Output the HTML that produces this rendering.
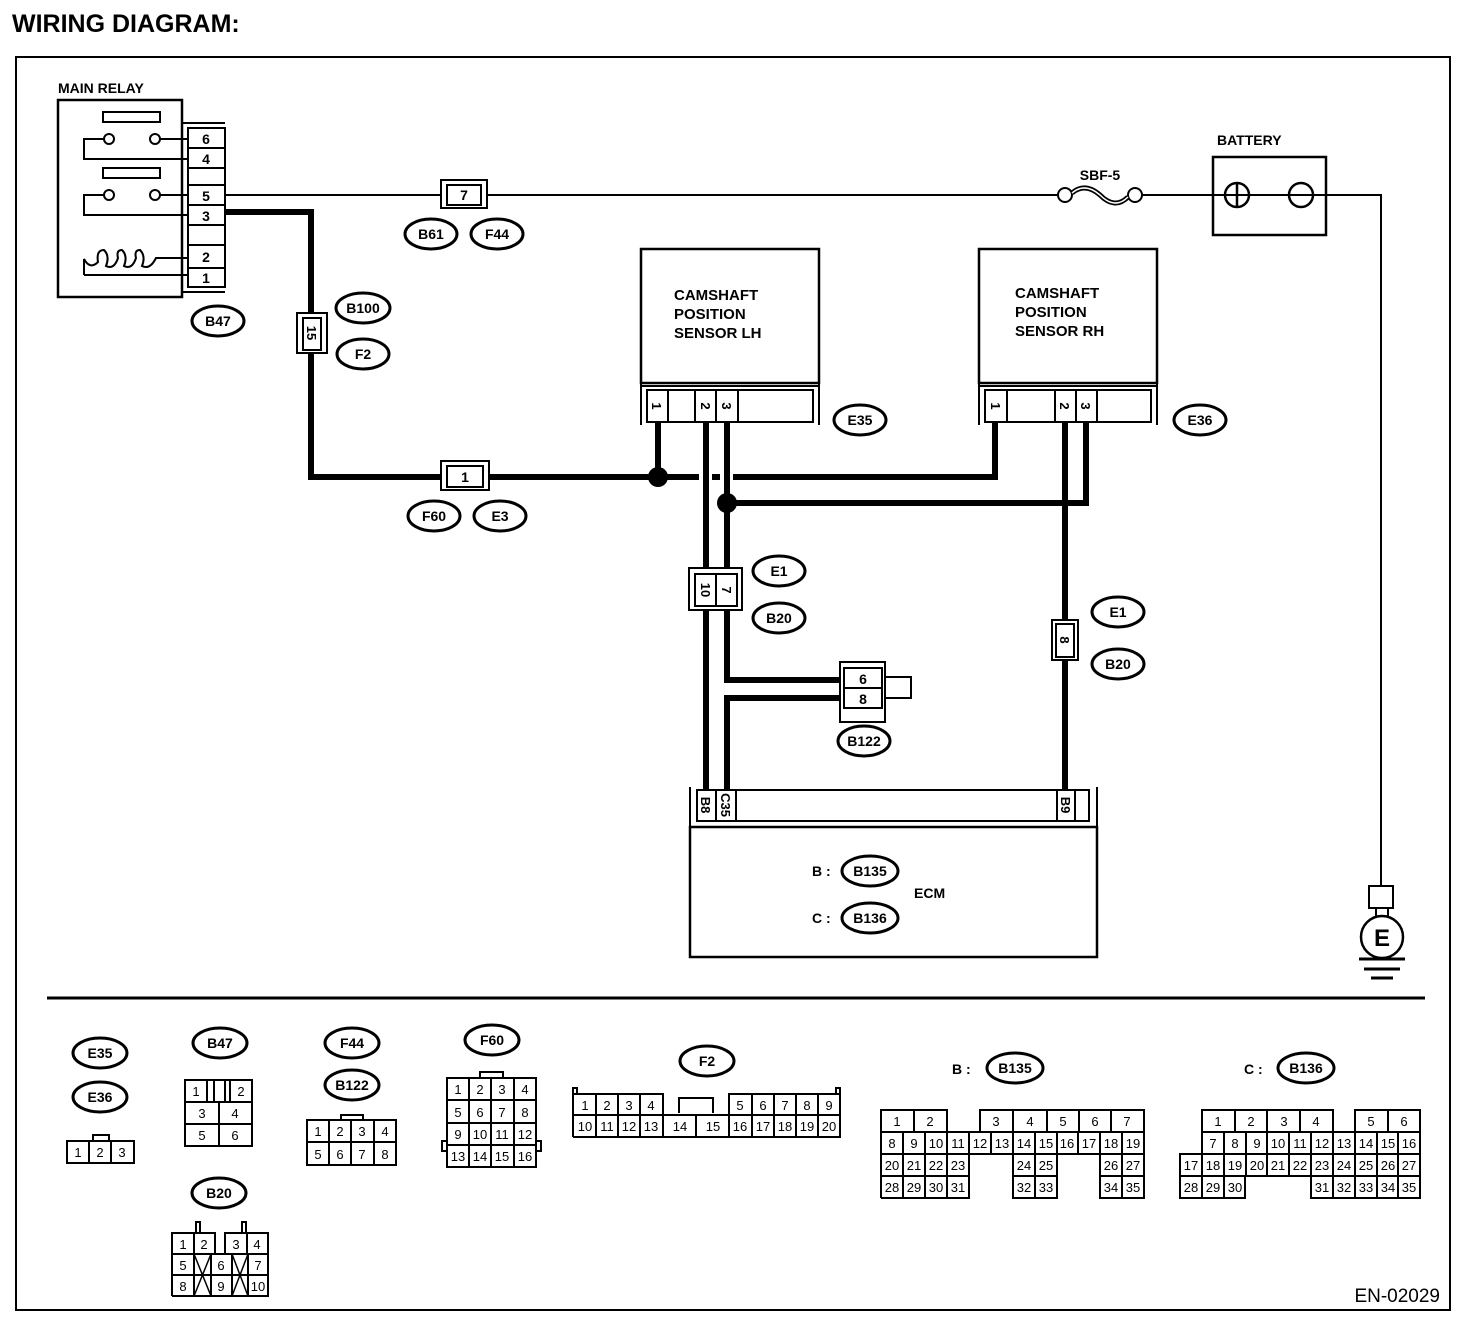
<!DOCTYPE html>
<html><head><meta charset="utf-8"><style>
html,body{margin:0;padding:0;background:#fff}
svg{display:block}
text{font-family:"Liberation Sans",sans-serif;fill:#000}
.b{font-weight:bold}
.c{font-size:13px;text-anchor:middle}
.o{font-size:14px;font-weight:bold;text-anchor:middle}
.l{font-size:14px;font-weight:bold}
</style></head><body>
<svg width="1472" height="1326" viewBox="0 0 1472 1326" xmlns="http://www.w3.org/2000/svg">
<text x="12" y="32" style="font-size:25px;font-weight:bold">WIRING DIAGRAM:</text>
<rect x="16" y="57" width="1434" height="1253" fill="none" stroke="#000" stroke-width="2"/>

<g fill="none" stroke="#000">
<rect x="58" y="100" width="124" height="197" stroke-width="2.5"/>
<line x1="182" y1="123" x2="225" y2="123" stroke-width="2"/>
<line x1="182" y1="292" x2="225" y2="292" stroke-width="2"/>
<line x1="182" y1="123" x2="182" y2="292" stroke-width="2"/>
<rect x="188" y="128" width="37" height="159" stroke-width="2"/>
<path d="M188 148H225M188 168H225M188 185H225M188 205H225M188 225H225M188 245H225M188 268H225" stroke-width="2"/>
<rect x="103" y="112" width="57" height="10" stroke-width="2"/>
<rect x="103" y="168" width="57" height="10" stroke-width="2"/>
<circle cx="109" cy="139" r="5" stroke-width="2"/><circle cx="155" cy="139" r="5" stroke-width="2"/>
<circle cx="109" cy="195" r="5" stroke-width="2"/><circle cx="155" cy="195" r="5" stroke-width="2"/>
<path d="M160 139H188M104 139H84V159H188M160 195H188M104 195H84V215H188" stroke-width="2"/>
<path d="M84 275V259Q90 270 98 262Q96 250 104 250Q110 256 106 266Q114 270 118 258Q116 250 122 250Q128 256 124 266Q132 270 136 258Q134 250 140 250Q146 256 142 266Q150 270 156 258H188M84 275H188" stroke-width="2"/>

<path d="M225 195H1058M1142 195H1381V886" stroke-width="2"/>
<rect x="441" y="180" width="46" height="28" stroke-width="2" fill="#fff"/>
<rect x="447" y="185" width="34" height="20" stroke-width="2" fill="#fff"/>
<circle cx="1065" cy="195" r="7" stroke-width="2" fill="#fff"/><circle cx="1135" cy="195" r="7" stroke-width="2" fill="#fff"/>
<path d="M1072 193Q1085 182 1100 195Q1115 210 1128 197" stroke-width="5"/>
<path d="M1072 193Q1085 182 1100 195Q1115 210 1128 197" stroke="#fff" stroke-width="1.5"/>
<rect x="1213" y="157" width="113" height="78" stroke-width="2.5"/>
<circle cx="1237" cy="195" r="12" stroke-width="2.5"/><line x1="1237" y1="183" x2="1237" y2="207" stroke-width="2.5"/>
<circle cx="1301" cy="195" r="12" stroke-width="2.5"/>
<rect x="1369" y="886" width="24" height="22" stroke-width="2"/>
<path d="M1376 908V918M1388 908V918" stroke-width="2"/>
<circle cx="1382" cy="937" r="21" stroke-width="2.5"/>
<path d="M1359 959H1405M1364 969H1400M1371 978H1393" stroke-width="3"/>

<path d="M225 212H311V477H699M712 477H720M733 477H995V420" stroke-width="6"/>
<path d="M658 477V420M706 420V792M727 420V680H843M843 698H727V792M727 503H1086V420M1065 420V792" stroke-width="6"/>
<rect x="297" y="313" width="30" height="40" stroke-width="2" fill="#fff"/>
<rect x="303" y="318" width="18" height="32" stroke-width="2" fill="#fff"/>
<rect x="441" y="461" width="48" height="29" stroke-width="2" fill="#fff"/>
<rect x="447" y="466" width="36" height="21" stroke-width="2" fill="#fff"/>
<rect x="689" y="568" width="53" height="42" stroke-width="2" fill="#fff"/>
<rect x="695" y="574" width="42" height="32" stroke-width="2" fill="#fff"/>
<line x1="716" y1="574" x2="716" y2="606" stroke-width="2"/>
<rect x="1052" y="620" width="26" height="40" stroke-width="2" fill="#fff"/>
<rect x="1056" y="624" width="18" height="33" stroke-width="2" fill="#fff"/>
<rect x="840" y="662" width="45" height="60" stroke-width="2" fill="#fff"/>
<rect x="844" y="668" width="38" height="40" stroke-width="2" fill="#fff"/>
<line x1="844" y1="688" x2="882" y2="688" stroke-width="2"/>
<rect x="885" y="677" width="26" height="21" stroke-width="2" fill="#fff"/>

<rect x="641" y="249" width="178" height="134" stroke-width="2.5"/>
<path d="M641 383V425M819 383V425M641 386H819" stroke-width="2"/>
<rect x="647" y="390" width="166" height="32" stroke-width="2" fill="#fff"/>
<path d="M668 390V422M695 390V422M716 390V422M738 390V422" stroke-width="2"/>
<rect x="979" y="249" width="178" height="134" stroke-width="2.5"/>
<path d="M979 383V425M1157 383V425M979 386H1157" stroke-width="2"/>
<rect x="985" y="390" width="166" height="32" stroke-width="2" fill="#fff"/>
<path d="M1007 390V422M1055 390V422M1076 390V422M1097 390V422" stroke-width="2"/>

<rect x="690" y="827" width="407" height="130" stroke-width="2.5"/>
<path d="M690 787V827M1097 787V827" stroke-width="2"/>
<rect x="697" y="790" width="392" height="31" stroke-width="2" fill="#fff"/>
<path d="M716 790V821M736 790V821M1057 790V821M1075 790V821" stroke-width="2"/>

<line x1="47" y1="998" x2="1425" y2="998" stroke-width="3"/>

<g stroke-width="3">
<ellipse cx="431" cy="234" rx="26" ry="15"/><ellipse cx="497" cy="234" rx="26" ry="15"/>
<ellipse cx="218" cy="321" rx="26" ry="15"/><ellipse cx="363" cy="308" rx="27" ry="15"/><ellipse cx="363" cy="354" rx="26" ry="15"/>
<ellipse cx="860" cy="420" rx="26" ry="15"/><ellipse cx="1200" cy="420" rx="26" ry="15"/>
<ellipse cx="434" cy="516" rx="26" ry="15"/><ellipse cx="500" cy="516" rx="26" ry="15"/>
<ellipse cx="779" cy="571" rx="26" ry="15"/><ellipse cx="779" cy="618" rx="26" ry="15"/>
<ellipse cx="1118" cy="612" rx="26" ry="15"/><ellipse cx="1118" cy="664" rx="26" ry="15"/>
<ellipse cx="864" cy="741" rx="26" ry="15"/>
<ellipse cx="870" cy="871" rx="28" ry="15"/><ellipse cx="870" cy="918" rx="28" ry="15"/>
<ellipse cx="100" cy="1053" rx="27" ry="15"/><ellipse cx="100" cy="1097" rx="27" ry="15"/>
<ellipse cx="220" cy="1043" rx="27" ry="15"/><ellipse cx="352" cy="1043" rx="27" ry="15"/><ellipse cx="352" cy="1085" rx="27" ry="15"/>
<ellipse cx="492" cy="1040" rx="27" ry="15"/><ellipse cx="219" cy="1193" rx="27" ry="15"/><ellipse cx="707" cy="1061" rx="27" ry="15"/>
<ellipse cx="1015" cy="1068" rx="28" ry="15"/><ellipse cx="1306" cy="1068" rx="28" ry="15"/>
</g>
</g>
<circle cx="658" cy="477" r="10"/><circle cx="727" cy="503" r="10"/>

<text x="58" y="93" class="l">MAIN RELAY</text>
<text x="1217" y="145" class="l">BATTERY</text>
<text x="1100" y="180" class="o">SBF-5</text>
<g class="c b" style="font-size:14px">
<text x="206" y="144" text-anchor="middle">6</text><text x="206" y="164" text-anchor="middle">4</text>
<text x="206" y="201" text-anchor="middle">5</text><text x="206" y="221" text-anchor="middle">3</text>
<text x="206" y="262" text-anchor="middle">2</text><text x="206" y="283" text-anchor="middle">1</text>
<text x="464" y="200" text-anchor="middle">7</text><text x="465" y="482" text-anchor="middle">1</text>
<text x="863" y="684" text-anchor="middle">6</text><text x="863" y="704" text-anchor="middle">8</text>
</g>
<g class="l" style="font-size:15px">
<text x="674" y="300">CAMSHAFT</text><text x="674" y="319">POSITION</text><text x="674" y="338">SENSOR LH</text>
<text x="1015" y="298">CAMSHAFT</text><text x="1015" y="317">POSITION</text><text x="1015" y="336">SENSOR RH</text>
</g>
<g class="l">
<text x="812" y="876">B :</text><text x="812" y="923">C :</text><text x="914" y="898">ECM</text>
<text x="952" y="1074">B :</text><text x="1244" y="1074">C :</text>
</g>
<g class="b" style="font-size:13px" text-anchor="middle">
<text transform="translate(312,333) rotate(90)" x="0" y="5">15</text>
<text transform="translate(657,406) rotate(90)" x="0" y="5">1</text>
<text transform="translate(706,406) rotate(90)" x="0" y="5">2</text>
<text transform="translate(727,406) rotate(90)" x="0" y="5">3</text>
<text transform="translate(996,406) rotate(90)" x="0" y="5">1</text>
<text transform="translate(1065,406) rotate(90)" x="0" y="5">2</text>
<text transform="translate(1086,406) rotate(90)" x="0" y="5">3</text>
<text transform="translate(706,590) rotate(90)" x="0" y="5">10</text>
<text transform="translate(727,590) rotate(90)" x="0" y="5">7</text>
<text transform="translate(1065,640) rotate(90)" x="0" y="5">8</text>
<text transform="translate(706,805) rotate(90)" x="0" y="5">B8</text>
<text transform="translate(726,805) rotate(90)" x="0" y="5">C35</text>
<text transform="translate(1066,805) rotate(90)" x="0" y="5">B9</text>
</g>
<text x="1382" y="946" class="b" style="font-size:24px" text-anchor="middle">E</text>
<g class="o">
<text x="431" y="239">B61</text><text x="497" y="239">F44</text><text x="218" y="326">B47</text>
<text x="363" y="313">B100</text><text x="363" y="359">F2</text><text x="860" y="425">E35</text><text x="1200" y="425">E36</text>
<text x="434" y="521">F60</text><text x="500" y="521">E3</text><text x="779" y="576">E1</text><text x="779" y="623">B20</text>
<text x="1118" y="617">E1</text><text x="1118" y="669">B20</text><text x="864" y="746">B122</text>
<text x="870" y="876">B135</text><text x="870" y="923">B136</text>
<text x="100" y="1058">E35</text><text x="100" y="1102">E36</text><text x="220" y="1048">B47</text>
<text x="352" y="1048">F44</text><text x="352" y="1090">B122</text><text x="492" y="1045">F60</text>
<text x="219" y="1198">B20</text><text x="707" y="1066">F2</text>
<text x="1015" y="1073">B135</text><text x="1306" y="1073">B136</text>
</g>
<text x="1440" y="1302" style="font-size:19px" text-anchor="end">EN-02029</text>

<g fill="none" stroke="#000" stroke-width="2">
<rect x="67" y="1141" width="67" height="22"/><path d="M89 1141V1163M111 1141V1163"/><rect x="93" y="1135" width="16" height="6"/>
<rect x="185" y="1080" width="67" height="66"/><path d="M185 1102H252M185 1124H252M219 1102V1146M207 1080V1102M214 1080V1102M225 1080V1102M230 1080V1102"/>
<rect x="307" y="1120" width="89" height="45"/><path d="M307 1142H396M329 1120V1165M351 1120V1165M374 1120V1165"/><rect x="341" y="1115" width="22" height="5"/>
<rect x="447" y="1078" width="89" height="89"/><path d="M447 1100H536M447 1123H536M447 1145H536M469 1078V1167M491 1078V1167M514 1078V1167"/>
<rect x="480" y="1072" width="23" height="6"/><rect x="442" y="1141" width="5" height="10"/><rect x="536" y="1141" width="5" height="10"/>
<path d="M172 1296V1233H215V1254M225 1254V1233H268V1296H172M172 1254H268M172 1275H268M194 1233V1296M211 1254V1296M232 1254V1296M248 1254V1296M247 1233V1254"/>
<path d="M196 1233V1222H200V1233M242 1233V1222H246V1233"/>
<path d="M194 1254L211 1296M211 1254L194 1296M232 1254L248 1296M248 1254L232 1296" stroke-width="1.5"/>
<path d="M573 1137V1094H663V1115M729 1115V1094H840V1137H573M573 1115H840M596 1094V1137M618 1094V1137M640 1094V1137M663 1115V1137M696 1115V1137M729 1115V1137M752 1094V1137M774 1094V1137M796 1094V1137M818 1094V1137"/>
<path d="M679 1113V1098H713V1113"/><rect x="573" y="1088" width="4" height="6"/><rect x="836" y="1088" width="4" height="6"/>
<path d="M881 1198V1110H947V1132M980 1132V1110H1144V1198H1100V1154M1057 1154V1198H1013V1154M969 1154V1198H881"/>
<path d="M881 1132H1144M881 1154H1144M881 1176H969M1013 1176H1057M1100 1176H1144M914 1110V1132M1013 1110V1154M1047 1110V1132M1079 1110V1132M1111 1110V1132"/>
<path d="M903 1132V1198M925 1132V1198M947 1132V1198M969 1132V1154M991 1132V1154M1035 1132V1198M1057 1132V1154M1078 1132V1154M1100 1132V1154M1122 1132V1198"/>
<path d="M1202 1154V1110H1333V1132M1355 1132V1110H1420V1198H1311V1176M1245 1176V1198H1180V1154H1202"/>
<path d="M1202 1132H1420M1180 1154H1420M1180 1176H1420M1235 1110V1132M1267 1110V1132M1300 1110V1132M1388 1110V1132"/>
<path d="M1224 1132V1198M1246 1132V1176M1267 1132V1176M1289 1132V1176M1311 1132V1176M1333 1132V1198M1355 1132V1198M1377 1132V1198M1398 1132V1198M1202 1154V1198"/>
</g>
<g class="c">
<text x="78" y="1157">1</text><text x="100" y="1157">2</text><text x="122" y="1157">3</text>
<text x="196" y="1096">1</text><text x="241" y="1096">2</text><text x="202" y="1118">3</text><text x="235" y="1118">4</text><text x="202" y="1140">5</text><text x="235" y="1140">6</text>
<text x="318" y="1136">1</text><text x="340" y="1136">2</text><text x="362" y="1136">3</text><text x="385" y="1136">4</text>
<text x="318" y="1159">5</text><text x="340" y="1159">6</text><text x="362" y="1159">7</text><text x="385" y="1159">8</text>
<text x="458" y="1094">1</text><text x="480" y="1094">2</text><text x="502" y="1094">3</text><text x="525" y="1094">4</text>
<text x="458" y="1117">5</text><text x="480" y="1117">6</text><text x="502" y="1117">7</text><text x="525" y="1117">8</text>
<text x="458" y="1139">9</text><text x="480" y="1139">10</text><text x="502" y="1139">11</text><text x="525" y="1139">12</text>
<text x="458" y="1161">13</text><text x="480" y="1161">14</text><text x="502" y="1161">15</text><text x="525" y="1161">16</text>
<text x="183" y="1249">1</text><text x="204" y="1249">2</text><text x="236" y="1249">3</text><text x="257" y="1249">4</text>
<text x="183" y="1270">5</text><text x="221" y="1270">6</text><text x="258" y="1270">7</text>
<text x="183" y="1291">8</text><text x="221" y="1291">9</text><text x="258" y="1291">10</text>
<text x="585" y="1110">1</text><text x="607" y="1110">2</text><text x="629" y="1110">3</text><text x="651" y="1110">4</text>
<text x="740" y="1110">5</text><text x="763" y="1110">6</text><text x="785" y="1110">7</text><text x="807" y="1110">8</text><text x="829" y="1110">9</text>
<text x="585" y="1131">10</text><text x="607" y="1131">11</text><text x="629" y="1131">12</text><text x="651" y="1131">13</text>
<text x="680" y="1131">14</text><text x="713" y="1131">15</text><text x="740" y="1131">16</text><text x="763" y="1131">17</text><text x="785" y="1131">18</text><text x="807" y="1131">19</text><text x="829" y="1131">20</text>
<text x="897" y="1126">1</text><text x="930" y="1126">2</text><text x="996" y="1126">3</text><text x="1030" y="1126">4</text><text x="1063" y="1126">5</text><text x="1095" y="1126">6</text><text x="1127" y="1126">7</text>
<text x="892" y="1148">8</text><text x="914" y="1148">9</text><text x="936" y="1148">10</text><text x="958" y="1148">11</text><text x="980" y="1148">12</text><text x="1002" y="1148">13</text><text x="1024" y="1148">14</text><text x="1046" y="1148">15</text><text x="1067" y="1148">16</text><text x="1089" y="1148">17</text><text x="1111" y="1148">18</text><text x="1133" y="1148">19</text>
<text x="892" y="1170">20</text><text x="914" y="1170">21</text><text x="936" y="1170">22</text><text x="958" y="1170">23</text><text x="1024" y="1170">24</text><text x="1046" y="1170">25</text><text x="1111" y="1170">26</text><text x="1133" y="1170">27</text>
<text x="892" y="1192">28</text><text x="914" y="1192">29</text><text x="936" y="1192">30</text><text x="958" y="1192">31</text><text x="1024" y="1192">32</text><text x="1046" y="1192">33</text><text x="1111" y="1192">34</text><text x="1133" y="1192">35</text>
<text x="1218" y="1126">1</text><text x="1251" y="1126">2</text><text x="1284" y="1126">3</text><text x="1316" y="1126">4</text><text x="1371" y="1126">5</text><text x="1404" y="1126">6</text>
<text x="1213" y="1148">7</text><text x="1235" y="1148">8</text><text x="1257" y="1148">9</text><text x="1278" y="1148">10</text><text x="1300" y="1148">11</text><text x="1322" y="1148">12</text><text x="1344" y="1148">13</text><text x="1366" y="1148">14</text><text x="1388" y="1148">15</text><text x="1409" y="1148">16</text>
<text x="1191" y="1170">17</text><text x="1213" y="1170">18</text><text x="1235" y="1170">19</text><text x="1257" y="1170">20</text><text x="1278" y="1170">21</text><text x="1300" y="1170">22</text><text x="1322" y="1170">23</text><text x="1344" y="1170">24</text><text x="1366" y="1170">25</text><text x="1388" y="1170">26</text><text x="1409" y="1170">27</text>
<text x="1191" y="1192">28</text><text x="1213" y="1192">29</text><text x="1235" y="1192">30</text><text x="1322" y="1192">31</text><text x="1344" y="1192">32</text><text x="1366" y="1192">33</text><text x="1388" y="1192">34</text><text x="1409" y="1192">35</text>
</g>
</svg>
</body></html>
